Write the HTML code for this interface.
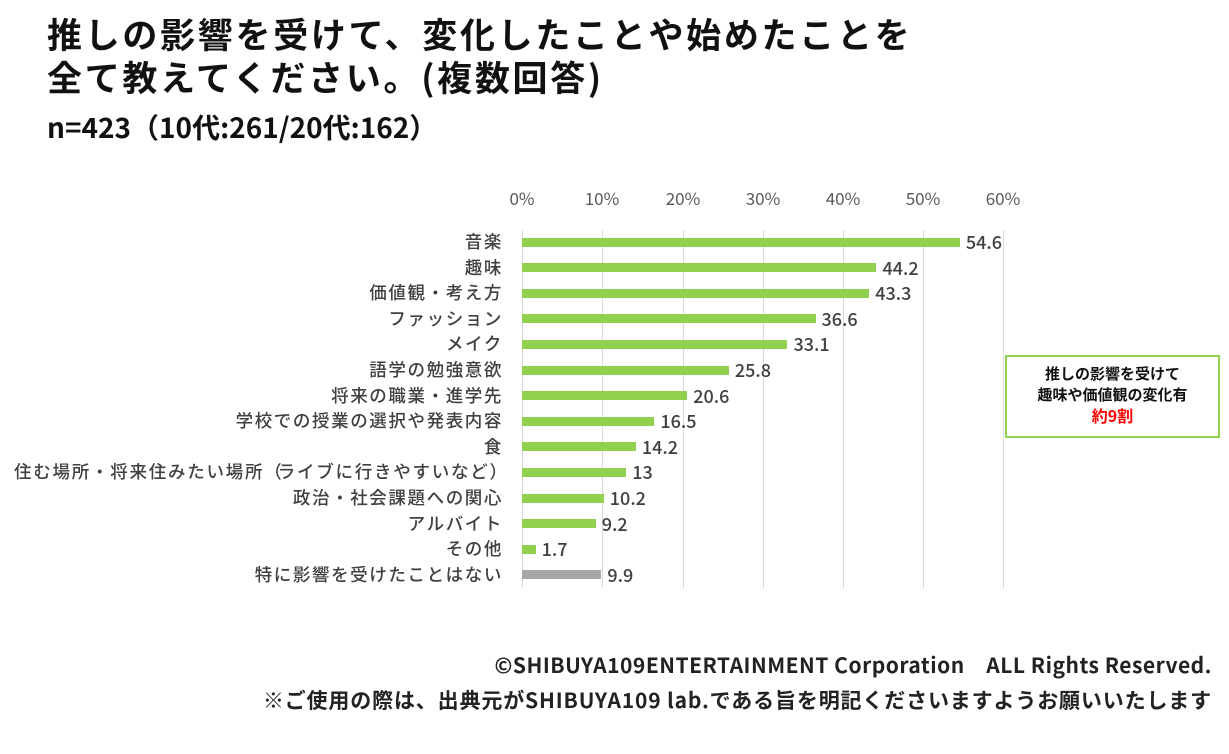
<!DOCTYPE html><html><head><meta charset="utf-8"><style>
body{margin:0;width:1229px;height:754px;background:#fff;position:relative;overflow:hidden;font-family:"Noto Sans CJK JP","Liberation Sans",sans-serif}
.t{position:absolute;left:47px;font-weight:bold;color:#111;white-space:nowrap}
.ax{position:absolute;top:186px;font-size:17px;color:#595959;width:60px;text-align:center;line-height:24px}
.g{position:absolute;top:230px;height:358px;width:1px;background:#d9d9d9}
.lb{position:absolute;right:726px;font-size:17.5px;letter-spacing:1.6px;color:#404040;white-space:nowrap;line-height:22px;font-weight:500}
.b{position:absolute;left:522px;height:9px;background:#92d050}
.v{position:absolute;font-size:18px;color:#404040;line-height:22px;font-weight:500}
.f{position:absolute;right:17px;font-size:21px;font-weight:bold;color:#222;white-space:nowrap;line-height:26px}
</style></head><body>
<div class="t" style="top:12px;font-size:35px;letter-spacing:2.7px;line-height:43px">推しの影響を受けて、変化したことや始めたことを<br>全て教えてください。(複数回答)</div>
<div class="t" style="top:110px;font-size:28px;line-height:34px">n=423（10代:261/20代:162）</div>
<div class="ax" style="left:492px">0%</div><div class="ax" style="left:572px">10%</div><div class="ax" style="left:653px">20%</div><div class="ax" style="left:733px">30%</div><div class="ax" style="left:813px">40%</div><div class="ax" style="left:893px">50%</div><div class="ax" style="left:973px">60%</div>
<div class="g" style="left:522px"></div><div class="g" style="left:602px"></div><div class="g" style="left:683px"></div><div class="g" style="left:763px"></div><div class="g" style="left:843px"></div><div class="g" style="left:923px"></div><div class="g" style="left:1003px"></div>
<div id="c"></div>
<div style="position:absolute;left:1005px;top:355px;width:211px;border:2px solid #92d050;text-align:center;font-size:15px;font-weight:bold;line-height:21px;padding-top:6px;height:73px;color:#111">推しの影響を受けて<br>趣味や価値観の変化有<br><span style="color:#f00;font-size:16px">約9割</span></div>
<div class="f" style="top:652px;letter-spacing:0.5px">©SHIBUYA109ENTERTAINMENT Corporation　ALL Rights Reserved.</div>
<div class="f" style="top:687px;letter-spacing:0.85px">※ご使用の際は、出典元がSHIBUYA109 lab.である旨を明記くださいますようお願いいたします</div>
<script>
var d=[["音楽",54.6],["趣味",44.2],["価値観・考え方",43.3],["ファッション",36.6],["メイク",33.1],["語学の勉強意欲",25.8],["将来の職業・進学先",20.6],["学校での授業の選択や発表内容",16.5],["食",14.2],["住む場所・将来住みたい場所<span style=\"letter-spacing:-4px\">（</span>ライブに行きやすいなど<span style=\"letter-spacing:-4px\">）</span>",13],["政治・社会課題への関心",10.2],["アルバイト",9.2],["その他",1.7],["特に影響を受けたことはない",9.9]];
var h="";d.forEach(function(r,i){var y=242+i*25.6,w=r[1]*8.02;
h+='<div class="lb" style="top:'+(y-11)+'px;'+(i==9?'letter-spacing:1.75px':'')+'">'+r[0]+'</div><div class="b" style="top:'+(y-4.5)+'px;width:'+w+'px;'+(i==13?'background:#a6a6a6':'')+'"></div><div class="v" style="top:'+(y-11)+'px;left:'+(522+w+6)+'px">'+r[1]+'</div>';});
document.getElementById("c").innerHTML=h;
</script>
</body></html>
